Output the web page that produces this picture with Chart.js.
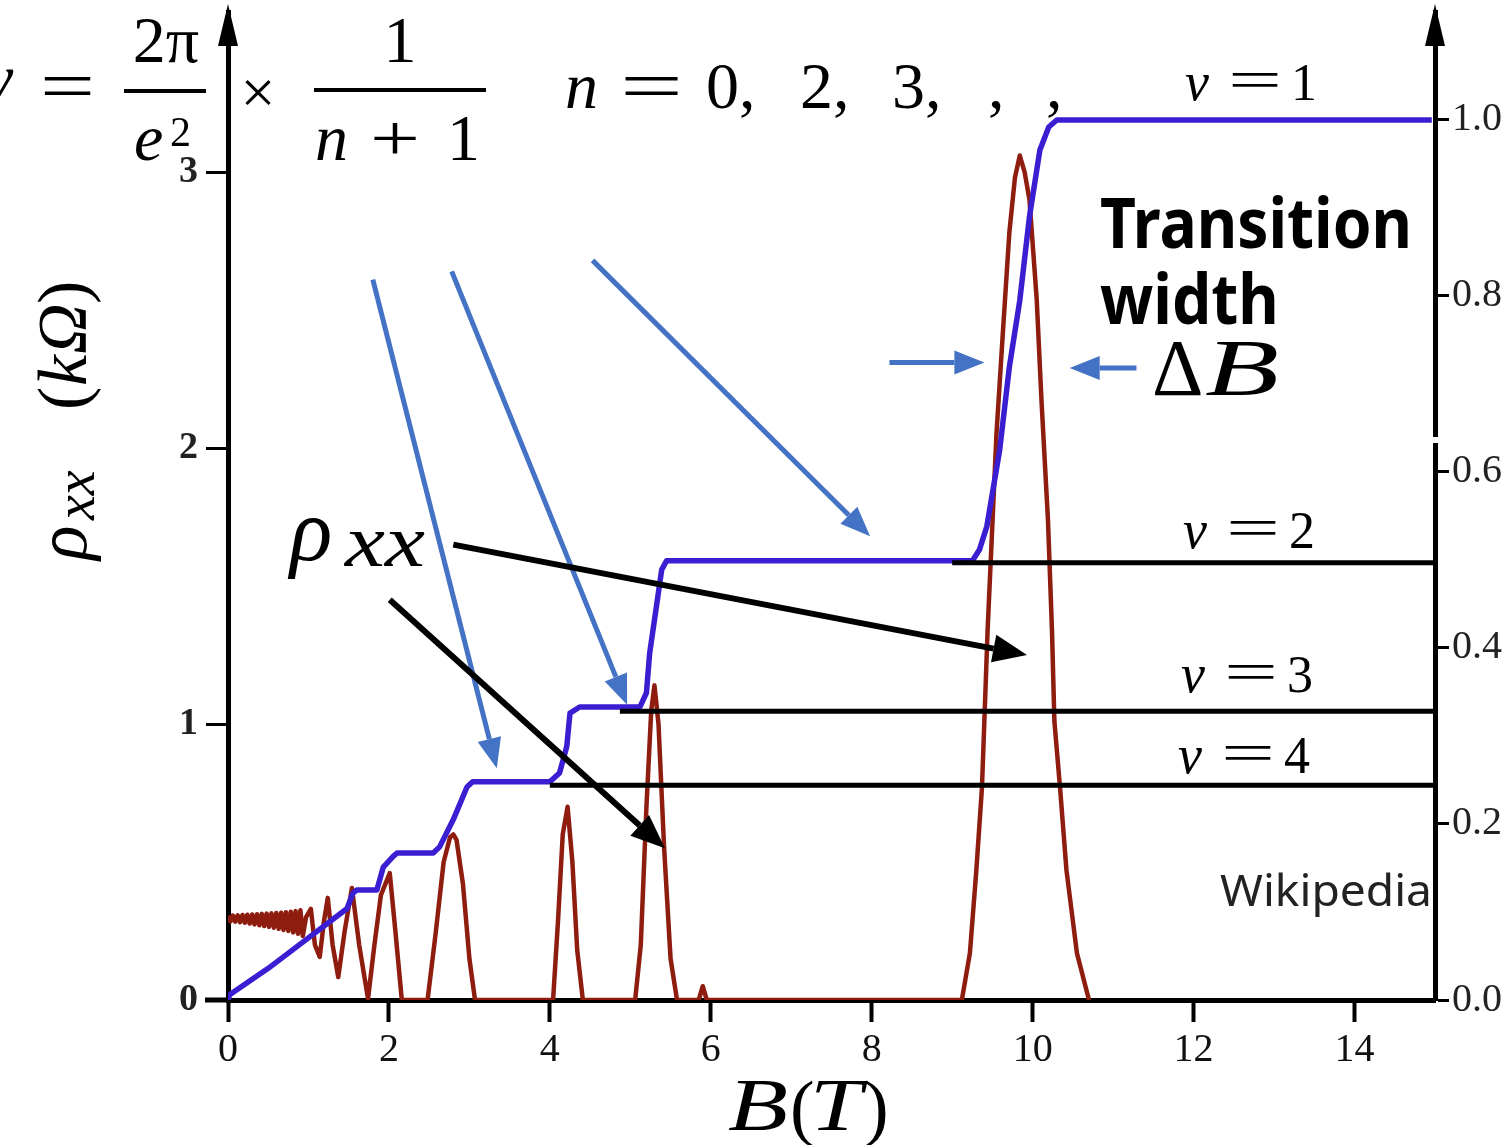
<!DOCTYPE html>
<html>
<head>
<meta charset="utf-8">
<script src="https://cdn.jsdelivr.net/npm/chart.js@4.4.1/dist/chart.umd.min.js"></script>
<style>
  html, body { margin: 0; padding: 0; background: #fff; overflow: hidden; }
  canvas { display: block; }
</style>
</head>
<body>
<canvas id="qhe" width="1511" height="1145"></canvas>
<script>
// tick labels
const xTickValues = [0, 2, 4, 6, 8, 10, 12, 14];
const leftTickValues = [0, 1, 2, 3];
const rightTickValues = [0, 0.2, 0.4, 0.6, 0.8, 1.0];

// Hall resistance rho_xy (units of h/e^2), right axis
const rxyB = [0, 0.02, 0.5, 1.02, 1.48, 1.55, 1.6, 1.85, 1.93, 2.05, 2.1, 2.55, 2.63, 2.8, 2.97, 3.04, 4.0,
  4.12, 4.21, 4.25, 4.37, 5.12, 5.2, 5.24, 5.33, 5.39, 5.45, 9.25, 9.34, 9.43, 9.59, 9.71, 9.84, 9.96, 10.09,
  10.2, 10.3, 14.5, 14.96];
const rxyVal = [0, 0.006, 0.036, 0.072, 0.104, 0.121, 0.125, 0.125, 0.151, 0.163, 0.167, 0.167, 0.174, 0.205,
  0.242, 0.248, 0.248, 0.258, 0.288, 0.326, 0.333, 0.333, 0.349, 0.394, 0.451, 0.489, 0.499, 0.499, 0.512,
  0.538, 0.625, 0.719, 0.795, 0.89, 0.966, 0.992, 1.0, 1.0, 1.0];

// longitudinal resistance rho_xx (kOhm), left axis
const rxxB = [0, 0.03, 0.06, 0.09, 0.12, 0.15, 0.18, 0.21, 0.24, 0.27, 0.3, 0.33, 0.36, 0.39, 0.42, 0.45,
  0.48, 0.51, 0.54, 0.57, 0.6, 0.63, 0.66, 0.69, 0.72, 0.75, 0.78, 0.81, 0.84, 0.87, 0.9, 0.93, 0.97,
  1.03, 1.08, 1.14, 1.19, 1.24, 1.3, 1.37, 1.45, 1.54, 1.63, 1.74, 1.82, 1.9, 2.01, 2.08, 2.16, 2.48, 2.58,
  2.68, 2.76, 2.8, 2.84, 2.92, 3.0, 3.07, 4.04, 4.1, 4.16, 4.22, 4.28, 4.34, 4.41, 5.06, 5.13, 5.2, 5.26,
  5.3, 5.35, 5.42, 5.5, 5.58, 5.85, 5.9, 5.95, 9.12, 9.22, 9.3, 9.37, 9.44, 9.55, 9.63, 9.71, 9.78, 9.84,
  9.9, 9.96, 10.05, 10.11, 10.19, 10.24, 10.27, 10.34, 10.42, 10.55, 10.7];
const rxxVal = [0.305, 0.285, 0.306, 0.284, 0.307, 0.282, 0.308, 0.28, 0.309, 0.277, 0.31, 0.274, 0.311,
  0.271, 0.312, 0.268, 0.313, 0.265, 0.314, 0.262, 0.315, 0.258, 0.316, 0.254, 0.318, 0.25, 0.32, 0.245,
  0.322, 0.24, 0.325, 0.232, 0.3, 0.33, 0.2, 0.156, 0.28, 0.37, 0.2, 0.083, 0.25, 0.406, 0.2, 0.005, 0.2,
  0.38, 0.46, 0.25, 0.0, 0.0, 0.24, 0.5, 0.59, 0.6, 0.58, 0.42, 0.15, 0.0, 0.0, 0.28, 0.6, 0.7, 0.5,
  0.18, 0.0, 0.0, 0.2, 0.7, 1.05, 1.14, 1.0, 0.55, 0.15, 0.0, 0.0, 0.05, 0.0, 0.0, 0.17, 0.47, 0.77, 1.34,
  2.05, 2.42, 2.78, 2.98, 3.06, 3.0, 2.9, 2.54, 2.17, 1.74, 1.34, 1.01, 0.77, 0.47, 0.17, 0.0];

// quantized plateau guide lines (right axis)
const plateauNu = [2, 3, 4];
const plateauStart = [9.0, 4.87, 4.0];
const plateauEnd = [15, 15, 15];
const plateauLevel = [0.497, 0.328, 0.244];

const serif = "'Liberation Serif', 'Times New Roman', serif";
const sans = "'Noto Sans', 'Open Sans', sans-serif";

function pts(xs, ys) { return xs.map((x, i) => ({ x: x, y: ys[i] })); }

const datasets = [
  {
    label: 'rho_xx', data: pts(rxxB, rxxVal), yAxisID: 'yL',
    borderColor: '#8e1d10', borderWidth: 4.5, tension: 0, order: 3
  },
  {
    label: 'rho_xy', data: pts(rxyB, rxyVal), yAxisID: 'yR',
    borderColor: '#3a1fd2', borderWidth: 5.5, tension: 0, order: 2
  }
];
plateauNu.forEach((nu, i) => {
  datasets.push({
    label: 'nu=' + nu, yAxisID: 'yR',
    data: [{ x: plateauStart[i], y: plateauLevel[i] }, { x: plateauEnd[i], y: plateauLevel[i] }],
    borderColor: '#000', borderWidth: 5, order: 1
  });
});

// arrows given in (B, rho_xx) coordinates
const blueArrows = [
  [1.80, 2.61, 3.34, 0.84], [2.78, 2.64, 4.96, 1.07], [4.53, 2.68, 7.98, 1.68],
  [8.22, 2.31, 9.40, 2.31], [11.29, 2.29, 10.46, 2.29]
];
const blackArrows = [[2.80, 1.65, 9.93, 1.25], [2.01, 1.45, 5.43, 0.55]];

function arrow(ctx, x1, y1, x2, y2, color, w, hl, hw) {
  const a = Math.atan2(y2 - y1, x2 - x1);
  const bx = x2 - hl * Math.cos(a), by = y2 - hl * Math.sin(a);
  ctx.strokeStyle = color; ctx.fillStyle = color; ctx.lineWidth = w;
  ctx.beginPath(); ctx.moveTo(x1, y1); ctx.lineTo(bx, by); ctx.stroke();
  ctx.beginPath();
  ctx.moveTo(x2, y2);
  ctx.lineTo(bx + hw / 2 * Math.sin(a), by - hw / 2 * Math.cos(a));
  ctx.lineTo(bx - hw / 2 * Math.sin(a), by + hw / 2 * Math.cos(a));
  ctx.closePath(); ctx.fill();
}

function txt(ctx, s, x, y, font, align) {
  ctx.font = font; ctx.textAlign = align || 'left'; ctx.fillText(s, x, y);
}

// text squeezed or stretched to a given width
function fit(ctx, s, x, y, font, w) {
  ctx.save();
  ctx.font = font; ctx.textAlign = 'left';
  const m = ctx.measureText(s).width;
  ctx.translate(x, y); ctx.scale(w / m, 1);
  ctx.fillText(s, 0, 0);
  ctx.restore();
}

function nuLabel(ctx, n, x, y) {
  txt(ctx, 'ν', x, y, 'italic 54px ' + serif);
  fit(ctx, '=', x + 43, y - 2, '54px ' + serif, 54);
  txt(ctx, String(n), x + 106, y, '52px ' + serif);
}

// y axes get no extra room for half tick labels
function noPad(s) { s.paddingTop = 0; s.paddingBottom = 0; s.paddingLeft = 0; s.paddingRight = 0; }

const decorations = {
  id: 'decorations',
  afterDraw(chart) {
    const ctx = chart.ctx;
    const xs = chart.scales.x, yl = chart.scales.yL;
    const area = chart.chartArea;
    ctx.save();
    ctx.fillStyle = '#000';
    ctx.textBaseline = 'alphabetic';

    // axis arrow heads
    [area.left, area.right].forEach(x => {
      ctx.beginPath();
      ctx.moveTo(x, 4); ctx.lineTo(x - 10, 46); ctx.lineTo(x + 10, 46); ctx.closePath(); ctx.fill();
    });
    // small break in the right axis
    ctx.fillStyle = '#fff';
    ctx.fillRect(area.right - 4, 437, 9, 6);
    ctx.fillStyle = '#000';
    // bottom axis runs a little past the left axis
    ctx.fillRect(205, area.bottom - 2.5, area.left - 205, 5);

    // arrows
    blueArrows.forEach(a => arrow(ctx, xs.getPixelForValue(a[0]), yl.getPixelForValue(a[1]),
      xs.getPixelForValue(a[2]), yl.getPixelForValue(a[3]), '#4472c4', 5, 30, 24));
    blackArrows.forEach(a => arrow(ctx, xs.getPixelForValue(a[0]), yl.getPixelForValue(a[1]),
      xs.getPixelForValue(a[2]), yl.getPixelForValue(a[3]), '#000', 6, 34, 28));

    ctx.fillStyle = '#000';
    // formula at the top
    txt(ctx, 'y', -16, 100, 'italic 66px ' + serif);
    fit(ctx, '=', 40, 110, '72px ' + serif, 55);
    txt(ctx, '2π', 166, 62, '66px ' + serif, 'center');
    ctx.fillRect(124, 89, 82, 4);
    txt(ctx, 'e', 134, 160, 'italic 66px ' + serif);
    txt(ctx, '2', 170, 146, '42px ' + serif);
    txt(ctx, '×', 258, 113, '62px ' + serif, 'center');
    txt(ctx, '1', 400, 62, '66px ' + serif, 'center');
    ctx.fillRect(314, 88, 172, 4);
    txt(ctx, 'n', 315, 160, 'italic 66px ' + serif);
    fit(ctx, '+', 370, 160, '66px ' + serif, 50);
    txt(ctx, '1', 447, 160, '66px ' + serif);
    txt(ctx, 'n', 565, 108, 'italic 66px ' + serif);
    fit(ctx, '=', 620, 110, '72px ' + serif, 63);
    txt(ctx, '0,', 706, 108, '66px ' + serif);
    txt(ctx, '2,', 800, 108, '66px ' + serif);
    txt(ctx, '3,', 892, 108, '66px ' + serif);
    txt(ctx, ',', 988, 108, '66px ' + serif);
    txt(ctx, ',', 1046, 108, '66px ' + serif);

    // filling factor labels
    nuLabel(ctx, 1, 1185, 100);
    nuLabel(ctx, 2, 1183, 548);
    nuLabel(ctx, 3, 1181, 692);
    nuLabel(ctx, 4, 1178, 773);

    // rho_xx label in the plot
    txt(ctx, 'ρ', 290, 560, 'italic 88px ' + serif);
    fit(ctx, 'xx', 345, 566, 'italic 74px ' + serif, 80);

    // transition width
    ctx.save();
    ctx.font = 'bold 70px ' + sans;
    const wT = ctx.measureText('Transition').width;
    ctx.translate(1100, 248); ctx.scale(312 / wT, 1);
    ctx.textAlign = 'left'; ctx.fillText('Transition', 0, 0); ctx.fillText('width', 0, 76);
    ctx.restore();
    txt(ctx, 'Δ', 1152, 395, '80px ' + serif);
    fit(ctx, 'B', 1205, 395, 'italic 80px ' + serif, 74);

    ctx.fillStyle = '#222';
    fit(ctx, 'Wikipedia', 1220, 906, '44px ' + sans, 212);

    // axis titles
    ctx.fillStyle = '#000';
    fit(ctx, 'B', 728, 1130, 'italic 74px ' + serif, 60);
    txt(ctx, '(', 790, 1132, '74px ' + serif);
    fit(ctx, 'T', 810, 1130, 'italic 74px ' + serif, 52);
    txt(ctx, ')', 864, 1132, '74px ' + serif);

    ctx.save();
    ctx.translate(86, 560); ctx.rotate(-Math.PI / 2);
    txt(ctx, 'ρ', 0, 0, 'italic 72px ' + serif);
    txt(ctx, 'xx', 40, 8, 'italic 56px ' + serif);
    txt(ctx, '(', 150, 0, '70px ' + serif);
    txt(ctx, 'k', 174, 0, 'italic 70px ' + serif);
    txt(ctx, 'Ω', 206, 0, 'italic 70px ' + serif);
    txt(ctx, ')', 256, 0, '70px ' + serif);
    ctx.restore();

    ctx.restore();
  }
};

new Chart(document.getElementById('qhe').getContext('2d'), {
  type: 'line',
  data: { datasets: datasets },
  options: {
    responsive: false,
    animation: false,
    events: [],
    layout: { padding: { top: 12, left: 0, right: 0, bottom: 0 } },
    elements: { point: { radius: 0 }, line: { borderCapStyle: 'butt', borderJoinStyle: 'round' } },
    plugins: { legend: { display: false }, tooltip: { enabled: false } },
    scales: {
      x: {
        type: 'linear', position: 'bottom', min: 0, max: 15,
        afterFit(s) { s.height = 145; noPad(s); },
        afterBuildTicks(s) { s.ticks = xTickValues.map(v => ({ value: v })); },
        ticks: { color: '#111', padding: 4, maxRotation: 0, font: { family: serif, size: 40 } },
        grid: { drawOnChartArea: false, tickLength: 22, tickWidth: 4, tickColor: '#000' },
        border: { display: true, color: '#000', width: 5 }
      },
      yL: {
        type: 'linear', position: 'left', min: 0, max: 3.58,
        afterFit(s) { s.width = 228; noPad(s); },
        afterBuildTicks(s) { s.ticks = leftTickValues.map(v => ({ value: v })); },
        ticks: { color: '#222', padding: 8, font: { family: serif, size: 38, weight: 'bold' } },
        grid: { drawOnChartArea: false, tickLength: 22, tickWidth: 3, tickColor: '#000' },
        border: { display: true, color: '#000', width: 5 }
      },
      yR: {
        type: 'linear', position: 'right', min: 0, max: 1.1227,
        afterFit(s) { s.width = 76; noPad(s); },
        afterBuildTicks(s) { s.ticks = rightTickValues.map(v => ({ value: v })); },
        ticks: { color: '#222', padding: 3, font: { family: serif, size: 40 }, callback: v => v.toFixed(1) },
        grid: { drawOnChartArea: false, tickLength: 14, tickWidth: 3, tickColor: '#000' },
        border: { display: true, color: '#000', width: 5 }
      }
    }
  },
  plugins: [decorations]
});
</script>
</body>
</html>
